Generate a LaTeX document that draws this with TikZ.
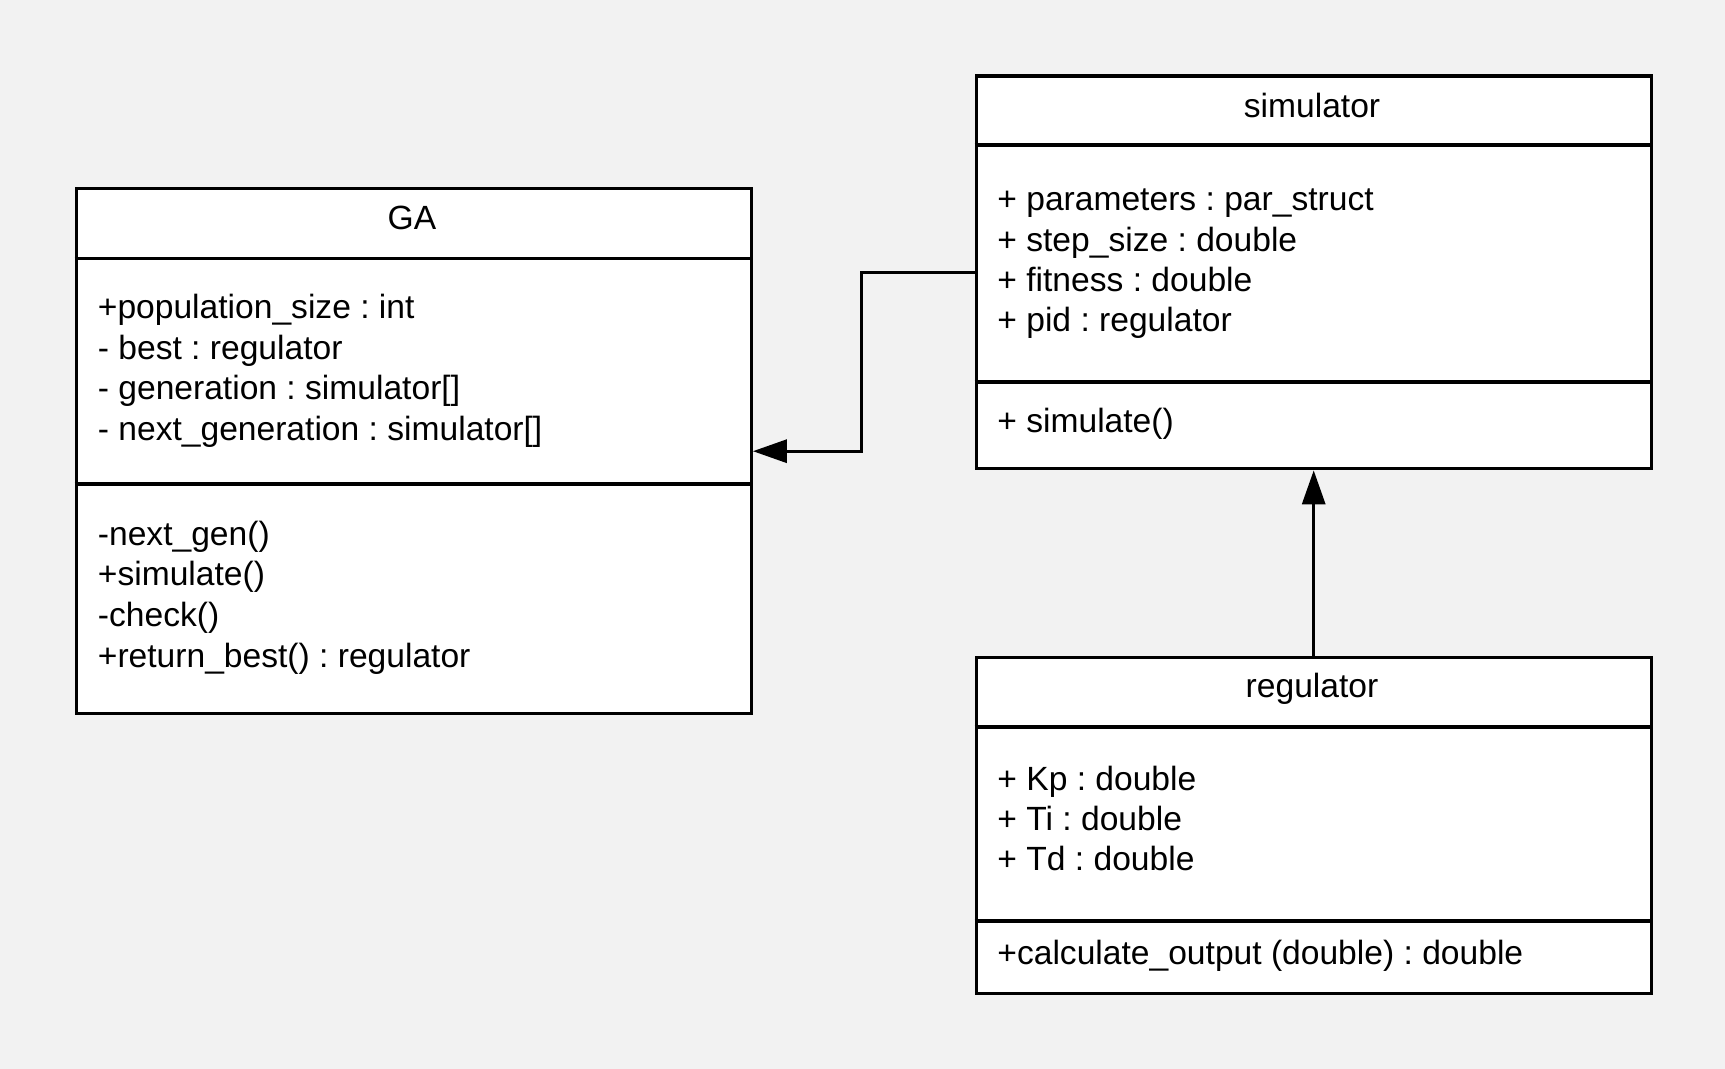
\documentclass[tikz,border=0pt]{standalone}
\usepackage{fontspec}
\setmainfont{Liberation Sans}
\frenchspacing
\usetikzlibrary{arrows.meta}
\definecolor{uml_bg}{RGB}{242, 242, 242}
\tikzstyle{classbox}=[rectangle,draw=black,fill=white,line width=1.7pt,
  inner sep=0pt,anchor=north west,minimum width=337.5pt]
\tikzstyle{sep}=[draw=black,line width=1.7pt]
\tikzstyle{member}=[anchor=west,inner sep=0pt,font=\fontsize{16.8}{20.2}\selectfont,
  text height=14.5pt,text depth=2.8pt]
\tikzstyle{classname}=[member,anchor=center]
\tikzstyle{link}=[line width=1.6pt,-{Triangle[length=17pt,width=11.5pt]}]
\begin{document}
\begin{tikzpicture}[x=0.5pt,y=-0.5pt]
    \fill[uml_bg] (0,0) rectangle (1725,1069);
    \useasboundingbox (0,0) rectangle (1725,1069);
    % GA
    \node [style=classbox,minimum height=262.5pt] (ga) at (74.5,187) {};
    \draw [style=sep] (74.5,258.5) -- (749.5,258.5);
    \draw [style=sep] (74.5,484) -- (749.5,484);
    \node [style=classname] (ga-name) at (412,218) {GA};
    \foreach \txt [count=\i from 0] in {+population\_size : int, - best : regulator,
      - generation : simulator[], - next\_generation : simulator[]}
      \node [style=member] (ga-attr\i) at (97.5,{307+40.5*\i}) {\txt};
    \foreach \txt [count=\i from 0] in {-next\_gen(), +simulate(), -check(),
      +return\_best() : regulator}
      \node [style=member] (ga-op\i) at (97.5,{533.5+40.8*\i}) {\txt};
    % simulator
    \node [style=classbox,minimum height=196.25pt] (sim) at (974.5,74.5) {};
    \draw [style=sep] (974.5,145) -- (1649.5,145);
    \draw [style=sep] (974.5,382) -- (1649.5,382);
    \node [style=classname] (sim-name) at (1312,105.6) {simulator};
    \foreach \txt [count=\i from 0] in {+ parameters : par\_struct, + step\_size : double,
      + fitness : double, + pid : regulator}
      \node [style=member] (sim-attr\i) at (997,{199+40.4*\i}) {\txt};
    \node [style=member] (sim-op0) at (997,421) {+ simulate()};
    % regulator
    \node [style=classbox,minimum height=168pt] (reg) at (974.5,656) {};
    \draw [style=sep] (974.5,727) -- (1649.5,727);
    \draw [style=sep] (974.5,921) -- (1649.5,921);
    \node [style=classname] (reg-name) at (1312,686) {regulator};
    \foreach \txt [count=\i from 0] in {+ Kp : double, + Ti : double, + Td : double}
      \node [style=member] (reg-attr\i) at (997,{779+40*\i}) {\txt};
    \node [style=member] (reg-op0) at (997,952.6) {+calculate\_output (double) : double};
    % connectors
    \draw [style=link] (sim.west) -- ++(-113,0) |- (ga.east);
    \draw [style=link] (reg.north) -- (sim.south);
\end{tikzpicture}
\end{document}
